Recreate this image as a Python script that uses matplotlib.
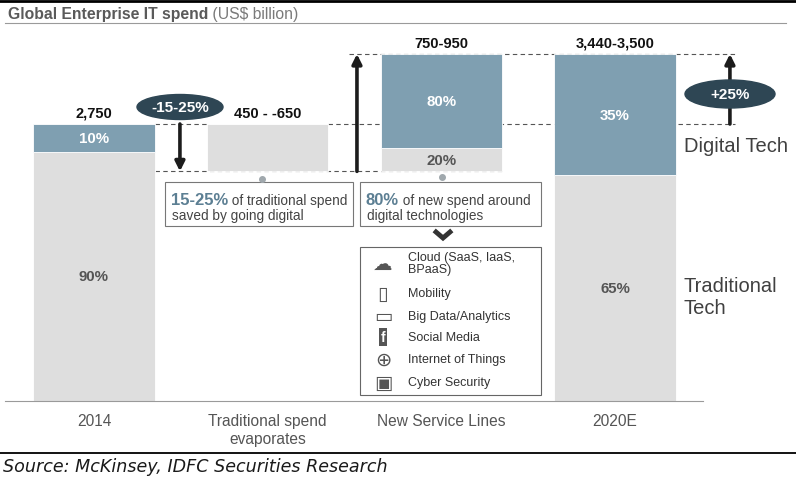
import numpy as np
import matplotlib
matplotlib.use('Agg')
import matplotlib.pyplot as plt
from matplotlib.patches import Rectangle, Ellipse

# chart values (US$ billion, as drawn)
categories = ['2014', 'Traditional spend\nevaporates', 'New Service Lines', '2020E']
total_labels = ['2,750', '450 - -650', '750-950', '3,440-3,500']
bar_bottom = [0, 2280, 2280, 0]
bar_top = [2750, 2750, 3445, 3445]
digital_share = [0.10, 0.0, 0.80, 0.35]
digital_labels = ['10%', '', '80%', '35%']
traditional_labels = ['90%', '', '20%', '65%']

list_items = ['Cloud (SaaS, IaaS,\nBPaaS)', 'Mobility', 'Big Data/Analytics',
              'Social Media', 'Internet of Things', 'Cyber Security']
list_icons = ['\u2601', '\u25AF', '\u25AD', 'f', '\u2295', '\u25A3']

BLUE = '#7f9fb1'
GREY = '#dedede'
DARK = '#2e4654'
TXT = '#444444'
NARROW = ['Liberation Sans Narrow', 'Liberation Sans', 'DejaVu Sans']
SANS = ['Liberation Sans', 'DejaVu Sans']

plt.rcParams['font.family'] = SANS

fig = plt.figure(figsize=(7.96, 4.85), dpi=100)
fig.patch.set_facecolor('white')

# bar axes, placed over the plotting region of the picture
ax = fig.add_axes([5 / 796, 83 / 485, 698 / 796, 377 / 485])
ax.set_xlim(-0.512, 3.506)
ax.set_ylim(0, 3743)
for s in ['top', 'right', 'left']:
    ax.spines[s].set_visible(False)
ax.spines['bottom'].set_color('#9a9a9a')
ax.spines['bottom'].set_linewidth(0.8)
ax.set_yticks([])
ax.set_xticks(range(len(categories)), categories)
ax.tick_params(axis='x', length=0, pad=9, labelsize=11.2, labelcolor='#555555')
ax.patch.set_alpha(0)

x = np.arange(len(categories))
w = 0.70
dash = (0, (4, 3))

# dashed guide lines
ax.hlines(2750, 0.35, 0.65, color='#555555', lw=0.8, linestyles=dash)
ax.hlines(2750, 1.35, 3.69, color='#555555', lw=0.8, linestyles=dash, clip_on=False)
ax.hlines(2280, 0.35, 2.35, color='#555555', lw=0.8, linestyles=dash)
ax.hlines(3445, 1.47, 3.69, color='#555555', lw=0.8, linestyles=dash, clip_on=False)

for i in x:
    height = bar_top[i] - bar_bottom[i]
    dig = height * digital_share[i]
    trad = height - dig
    ax.bar(i, trad, w, bottom=bar_bottom[i], color=GREY, edgecolor='white', lw=0.6, zorder=2)
    if dig > 0:
        ax.bar(i, dig, w, bottom=bar_bottom[i] + trad, color=BLUE, edgecolor='white', lw=0.6, zorder=2)
        ax.text(i, bar_bottom[i] + trad + dig / 2, digital_labels[i], ha='center', va='center',
                color='white', fontsize=10.8, fontweight='bold', zorder=3)
    if traditional_labels[i]:
        ax.text(i, bar_bottom[i] + trad / 2, traditional_labels[i], ha='center', va='center',
                color='#555555', fontsize=10.8, fontweight='bold', zorder=3)
    ax.annotate(total_labels[i], (i, bar_top[i]), xytext=(0, 3), textcoords='offset points',
                ha='center', va='bottom', fontsize=10.5, fontweight='bold', color='#111111',
                family=NARROW)

# arrows
arrow_kw = dict(arrowstyle='-|>', lw=2.6, color='#1c1c1c', mutation_scale=14, shrinkA=0, shrinkB=0)
ax.annotate('', xy=(0.495, 2280), xytext=(0.495, 2750), arrowprops=arrow_kw, annotation_clip=False)
ax.annotate('', xy=(1.514, 3445), xytext=(1.514, 2280), arrowprops=arrow_kw, annotation_clip=False)
ax.annotate('', xy=(3.661, 3445), xytext=(3.661, 2750), arrowprops=arrow_kw, annotation_clip=False)

# decoration layer in pixel coordinates
deco = fig.add_axes([0, 0, 1, 1])
deco.set_xlim(0, 796)
deco.set_ylim(485, 0)
deco.axis('off')
deco.patch.set_alpha(0)

deco.plot([0, 796], [1.5, 1.5], color='black', lw=2)
deco.plot([5, 786], [24, 24], color='#9a9a9a', lw=0.8)
deco.plot([0, 796], [454, 454], color='black', lw=1.3)

t = deco.text(8, 14, 'Global Enterprise IT spend', fontsize=11.3, fontweight='bold',
              color='#5a5a5a', va='center')
deco.annotate(' (US$ billion)', xy=(1, 0.5), xycoords=t, va='center', fontsize=11.3, color='#7a7a7a')

deco.text(3, 467, 'Source: McKinsey, IDFC Securities Research', fontsize=12.6, style='italic',
          color='#1a1a1a', va='center', family='DejaVu Sans')

# ellipse badges
for (cx, cy, ew, eh, label) in [(180, 108, 86, 25, '-15-25%'), (730, 95, 90, 28, '+25%')]:
    deco.add_patch(Ellipse((cx, cy), ew, eh, color=DARK, zorder=5))
    deco.text(cx, cy, label, color='white', fontsize=11, fontweight='bold', ha='center',
              va='center', family=NARROW, zorder=6)

# right side labels
deco.text(684, 147, 'Digital Tech', fontsize=14.5, color='#404040', va='center')
deco.text(684, 298, 'Traditional\nTech', fontsize=14.5, color='#404040', va='center',
          linespacing=1.2)

# callout boxes
deco.add_patch(Rectangle((165, 183), 188, 44, fc='white', ec='#777777', lw=0.8))
deco.add_patch(Rectangle((360, 183), 181, 44, fc='white', ec='#777777', lw=0.8))
deco.plot([262, 442], [180, 178], 'o', ms=4, color='#a0a8ad', ls='none')

fig.canvas.draw()
r = fig.canvas.get_renderer()
for (bx, big, rest, line2) in [(171, '15-25%', ' of traditional spend', 'saved by going digital'),
                               (366, '80%', ' of new spend around', 'digital technologies')]:
    tb = deco.text(bx, 205, big, fontsize=12, fontweight='bold', color='#5c7f93',
                   va='baseline', family=NARROW)
    bb = tb.get_window_extent(r)
    x_end = deco.transData.inverted().transform((bb.x1, bb.y0))[0]
    deco.text(x_end, 205, rest, fontsize=9.8, color=TXT, va='baseline')
    deco.text(bx + 1, 216, line2, fontsize=9.8, color=TXT, va='center')

# chevron
deco.plot([436, 443, 450], [233, 239, 233], color='#333333', lw=3.5, solid_joinstyle='miter')

# list of new service lines
deco.add_patch(Rectangle((360, 248), 181, 148, fc='white', ec='#666666', lw=0.8))
item_y = [264, 294, 317, 338, 360, 383]
for icon, item, yy in zip(list_icons, list_items, item_y):
    if icon == 'f':
        deco.text(383, yy, 'f', fontsize=10, fontweight='bold', color='white', ha='center',
                  va='center', bbox=dict(boxstyle='square,pad=0.15', fc='#555555', ec='none'))
    else:
        deco.text(383, yy, icon, fontsize=14, color='#555555', ha='center', va='center',
                  family='DejaVu Sans')
    deco.text(408, yy, item, fontsize=9, color='#333333', va='center', linespacing=1.0)

plt.savefig('out.png', dpi=100)
